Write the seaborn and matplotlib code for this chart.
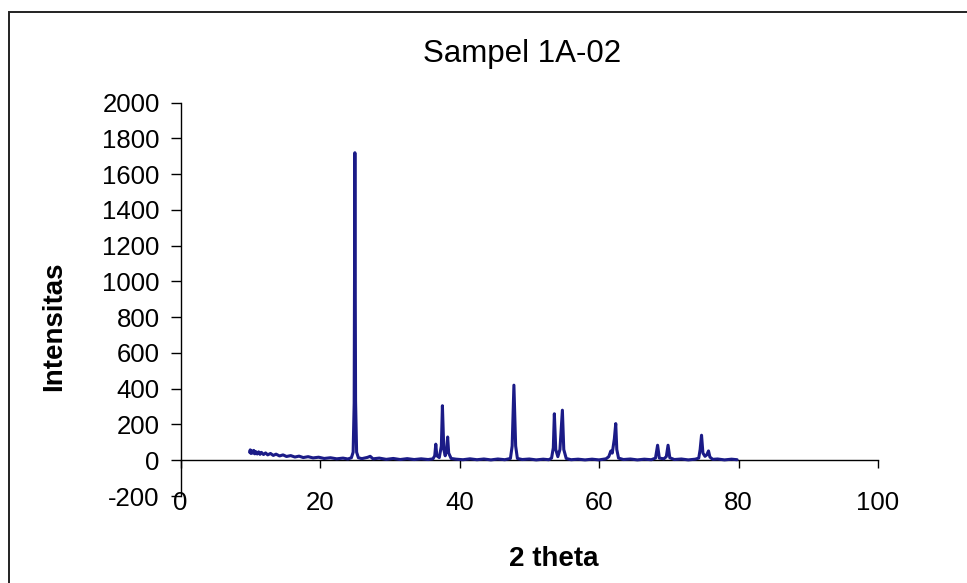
import matplotlib
matplotlib.use("Agg")
import matplotlib.pyplot as plt
import seaborn as sns
import pandas as pd
from matplotlib.patches import Rectangle

# ---- data ----
two_theta = [
    9.9, 10.0, 10.1, 10.2, 10.35, 10.5, 10.65, 10.8, 11.0, 11.2, 11.4, 11.6,
    11.9, 12.2, 12.5, 12.9, 13.3, 13.7, 14.2, 14.7, 15.2, 15.8, 16.4, 17.0,
    17.6, 18.3, 19.0, 19.8, 20.6, 21.5, 22.4, 23.3, 24.0, 24.5, 24.75, 24.9,
    25.0, 25.1, 25.25, 25.5, 26.0, 26.8, 27.2, 27.6, 28.5, 29.5, 30.5, 31.5,
    32.5, 33.5, 34.5, 35.5, 36.2, 36.45, 36.6, 36.75, 37.1, 37.4, 37.55, 37.75,
    37.95, 38.15, 38.3, 38.45, 38.8, 39.5, 40.5, 41.5, 42.5, 43.5, 44.5, 45.5,
    46.5, 47.3, 47.55, 47.8, 48.05, 48.3, 49.0, 50.0, 51.0, 52.0, 52.8, 53.2,
    53.45, 53.6, 53.8, 54.1, 54.4, 54.75, 54.95, 55.3, 56.0, 57.0, 58.0, 59.0,
    60.0, 61.0, 61.4, 61.7, 61.9, 62.2, 62.4, 62.55, 62.8, 63.5, 64.5, 65.5,
    66.5, 67.5, 68.1, 68.4, 68.65, 69.3, 69.65, 69.9, 70.15, 70.8, 71.8, 72.8,
    73.8, 74.3, 74.5, 74.7, 74.9, 75.2, 75.45, 75.7, 75.9, 76.3, 77.0, 78.0,
    79.0, 79.8,
]
intensity = [
    45, 58, 38, 52, 40, 55, 36, 48, 35, 47, 33, 44,
    32, 41, 30, 38, 27, 34, 24, 30, 21, 26, 18, 23,
    15, 20, 13, 17, 10, 14, 8, 12, 7, 14, 45, 320,
    1720, 330, 45, 14, 9, 16, 22, 8, 12, 5, 10, 4,
    9, 4, 8, 4, 8, 25, 90, 25, 15, 80, 305, 60,
    25, 60, 130, 40, 10, 6, 3, 8, 3, 7, 2, 7,
    3, 10, 80, 420, 80, 10, 4, 7, 2, 6, 3, 12,
    70, 260, 60, 20, 60, 280, 60, 10, 3, 6, 2, 6,
    2, 8, 20, 52, 40, 120, 205, 60, 12, 4, 7, 2,
    6, 3, 12, 84, 12, 8, 20, 84, 14, 4, 7, 2,
    6, 12, 60, 140, 40, 22, 30, 52, 18, 5, 7, 2,
    6, 3,
]
x_ticks = [0, 20, 40, 60, 80, 100]
y_ticks = [-200, 0, 200, 400, 600, 800, 1000, 1200, 1400, 1600, 1800, 2000]

title = "Sampel 1A-02"
xlabel = "2 theta"
ylabel = "Intensitas"

df = pd.DataFrame({"two_theta": two_theta, "intensity": intensity})

sns.set_theme(style="white")
plt.rcParams["font.family"] = ["Liberation Sans", "DejaVu Sans"]
plt.rcParams["text.color"] = "black"
plt.rcParams["xtick.color"] = "black"
plt.rcParams["ytick.color"] = "black"
plt.rcParams["xtick.labelcolor"] = "black"
plt.rcParams["ytick.labelcolor"] = "black"

W, H = 967, 583
fig = plt.figure(figsize=(W / 100, H / 100), dpi=100)
fig.patch.set_facecolor("white")

# axes placement (pixels measured on the reference)
x0, x1 = 180.5, 878.0
y_top, y_bot = 102.7, 496.0
ax = fig.add_axes([x0 / W, 1 - y_bot / H, (x1 - x0) / W, (y_bot - y_top) / H])
ax.set_facecolor("none")

sns.lineplot(data=df, x="two_theta", y="intensity", ax=ax, sort=False,
             estimator=None, color="#1b1b87", linewidth=2.2)

ax.set_xlim(0, 100)
ax.set_ylim(-200, 2000)
ax.set_xlabel("")
ax.set_ylabel("")

for s in ["top", "right", "bottom"]:
    ax.spines[s].set_visible(False)
ax.spines["left"].set_color("black")
ax.spines["left"].set_linewidth(1.0)

ax.set_yticks(y_ticks)
ax.set_yticklabels([str(v) for v in y_ticks])
ax.tick_params(axis="y", direction="out", length=7, width=1.0, color="black",
               labelcolor="black", labelsize=18.5, pad=8, left=True)

ax.set_xticks(x_ticks)
ax.set_xticklabels([str(v) for v in x_ticks])
ax.tick_params(axis="x", length=0, labelsize=18.5, labelcolor="black", pad=-3.5)

# x axis line crossing at intensity 0
sec = ax.secondary_xaxis(200 / 2200)
sec.set_xticks(x_ticks)
sec.set_xticklabels([])
sec.tick_params(axis="x", direction="out", length=5.5, width=1.0, color="black")
sec.spines["bottom"].set_color("black")
sec.spines["bottom"].set_linewidth(1.0)

fig.text(522 / W, 1 - 62 / H, title, ha="center", va="baseline",
         fontsize=22.5, color="black")
fig.text(54 / W, 1 - 326.5 / H, ylabel, ha="center", va="center",
         rotation=90, fontsize=20, fontweight="bold", color="black")
fig.text(554 / W, 1 - 566 / H, xlabel, ha="center", va="baseline",
         fontsize=20, fontweight="bold", color="black")

# chart-area border (left and top edges visible in the reference)
fig.add_artist(Rectangle((9.3 / W, -0.1), 1.2, (1 - 12 / H) + 0.1,
                         transform=fig.transFigure, fill=False,
                         edgecolor="#222222", linewidth=1.4))

fig.savefig("out.png", dpi=100)
